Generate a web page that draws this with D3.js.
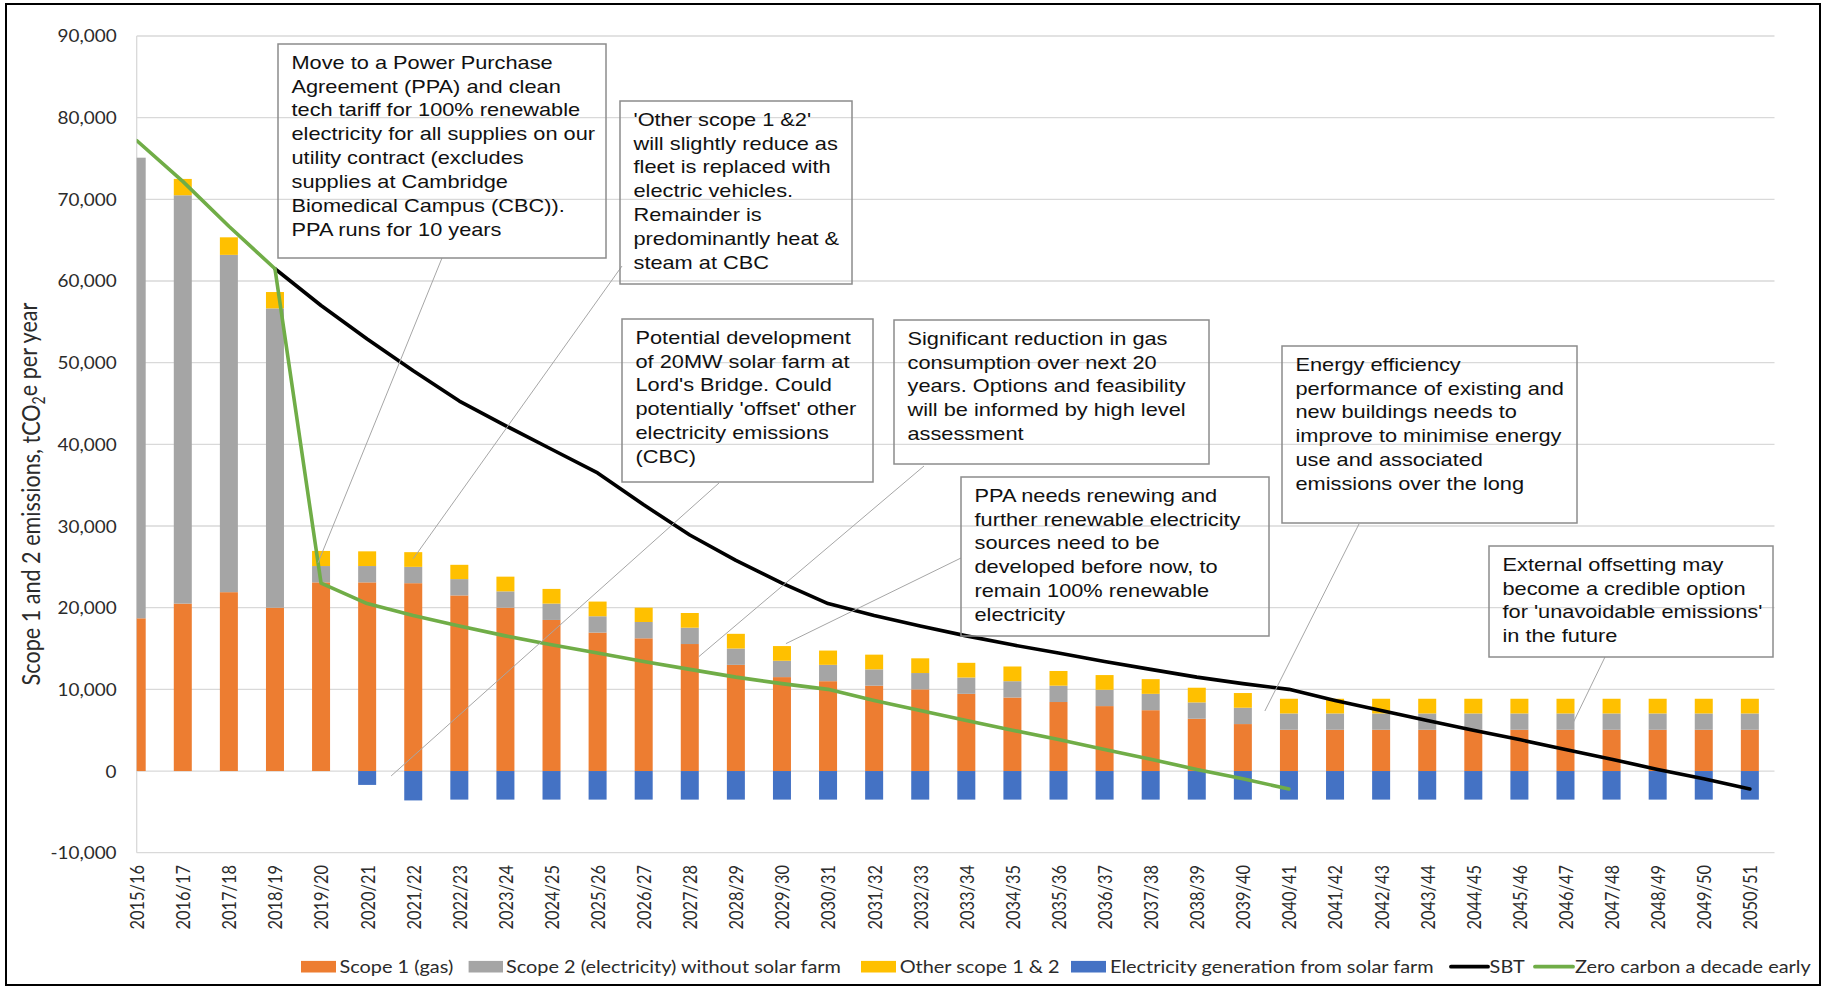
<!DOCTYPE html>
<html>
<head>
<meta charset="utf-8">
<script src="https://cdnjs.cloudflare.com/ajax/libs/d3/7.8.5/d3.min.js"></script>
<style>
  html, body { margin: 0; padding: 0; background: #fff; }
  svg { display: block; }
</style>
</head>
<body>
<svg id="chart" width="1829" height="987"></svg>
<script>
// ---- Data (tCO2e per year) ----
const years = [
  "2015/16","2016/17","2017/18","2018/19","2019/20","2020/21","2021/22","2022/23","2023/24",
  "2024/25","2025/26","2026/27","2027/28","2028/29","2029/30","2030/31","2031/32","2032/33",
  "2033/34","2034/35","2035/36","2036/37","2037/38","2038/39","2039/40","2040/41","2041/42",
  "2042/43","2043/44","2044/45","2045/46","2046/47","2047/48","2048/49","2049/50","2050/51"
];

const scope1Gas = [
  18700, 20500, 21900, 20000, 23100, 23100, 23000, 21500, 20000,
  18500, 16950, 16250, 15550, 13000, 11500, 11000, 10450, 10000,
  9450, 9000, 8450, 7950, 7450, 6400, 5750, 5050, 5050,
  5050, 5050, 5050, 5050, 5050, 5050, 5050, 5050, 5050
];

const scope2Electricity = [
  56400, 50000, 41300, 36650, 2000, 2000, 2000, 2000, 2000,
  2000, 2000, 2000, 2000, 2000, 2000, 2000, 2000, 2000,
  2000, 2000, 2000, 2000, 2000, 2000, 2000, 2000, 2000,
  2000, 2000, 2000, 2000, 2000, 2000, 2000, 2000, 2000
];

const otherScope12 = [
  0, 2000, 2150, 2000, 1850, 1800, 1800, 1750, 1800,
  1800, 1800, 1750, 1800, 1800, 1800, 1750, 1800, 1800,
  1800, 1800, 1800, 1800, 1800, 1800, 1800, 1800, 1800,
  1800, 1800, 1800, 1800, 1800, 1800, 1800, 1800, 1800
];

const solarGeneration = [
  0, 0, 0, 0, 0, -1700, -3600, -3500, -3500,
  -3500, -3500, -3500, -3500, -3500, -3500, -3500, -3500, -3500,
  -3500, -3500, -3500, -3500, -3500, -3500, -3500, -3500, -3500,
  -3500, -3500, -3500, -3500, -3500, -3500, -3500, -3500, -3500
];

const sbt = [
  null, null, null, 61500, 57000, 52900, 49000, 45300, 42300,
  39400, 36500, 32600, 28900, 25800, 23000, 20500, 19050, 17750,
  16550, 15450, 14450, 13400, 12450, 11500, 10700, 10000, 8650,
  7400, 6200, 5000, 3850, 2650, 1450, 200, -950, -2200
];

const zeroCarbonDecadeEarly = [
  77200, 72200, 66700, 61500, 23000, 20500, 19050, 17750, 16550,
  15450, 14450, 13400, 12450, 11500, 10700, 10000, 8650, 7400,
  6200, 5000, 3850, 2650, 1450, 200, -950, -2200, null,
  null, null, null, null, null, null, null, null, null
];

const yTicks = [-10000, 0, 10000, 20000, 30000, 40000, 50000, 60000, 70000, 80000, 90000];

const seriesNames = {
  scope1: "Scope 1 (gas)",
  scope2: "Scope 2 (electricity) without solar farm",
  other: "Other scope 1 & 2",
  solar: "Electricity generation from solar farm",
  sbt: "SBT",
  zero: "Zero carbon a decade early"
};

const noteTexts = [
  ["Move to a Power Purchase", "Agreement (PPA) and clean", "tech tariff for 100% renewable",
   "electricity for all supplies on our", "utility contract (excludes", "supplies at Cambridge",
   "Biomedical Campus (CBC)).", "PPA runs for 10 years"],
  ["'Other scope 1 &2'", "will slightly reduce as", "fleet is replaced with", "electric vehicles.",
   "Remainder is", "predominantly heat &", "steam at CBC"],
  ["Potential development", "of 20MW solar farm at", "Lord's Bridge. Could",
   "potentially 'offset' other", "electricity emissions", "(CBC)"],
  ["Significant reduction in gas", "consumption over next 20", "years. Options and feasibility",
   "will be informed by high level", "assessment"],
  ["PPA needs renewing and", "further renewable electricity", "sources need to be",
   "developed before now, to", "remain 100% renewable", "electricity"],
  ["Energy efficiency", "performance of existing and", "new buildings needs to",
   "improve to minimise energy", "use and associated", "emissions over the long"],
  ["External offsetting may", "become a credible option", "for 'unavoidable emissions'", "in the future"]
];

// Where each note's leader line points: category and value on the chart
const noteTargets = [
  { year: "2019/20", dx: -3, value: 25500 },
  { year: "2021/22", dx: 0, value: 26000 },
  { year: "2020/21", dx: 24, value: -600 },
  { year: "2027/28", dx: 9, value: 14000 },
  { year: "2029/30", dx: 4, value: 15600 },
  { year: "2039/40", dx: 22, value: 7350 },
  { year: "2046/47", dx: 7, value: 5750 }
];

// ---- Layout ----
const SX = 1.17;               // horizontal text stretch
const plot = { left: 136.7, right: 1774.5, top: 36, bottom: 852.7 };
const colors = {
  scope1: "#ED7D31", scope2: "#A5A5A5", other: "#FFC000", solar: "#4472C4",
  sbt: "#000000", zero: "#70AD47", grid: "#D9D9D9"
};
const axisFont = "Lato, 'Open Sans', sans-serif";
const noteFont = "'Liberation Sans', Arial, sans-serif";
const labelColor = "#2b2b2b";

// note boxes: left, top, right, bottom, anchor of leader on the box
const noteBoxes = [
  { x0: 278, y0: 44, x1: 606, y1: 258, ax: 442, ay: 258 },
  { x0: 620, y0: 101, x1: 852, y1: 284, ax: 622, ay: 266 },
  { x0: 622, y0: 319, x1: 873, y1: 482, ax: 719, ay: 483 },
  { x0: 894, y0: 320, x1: 1209, y1: 464, ax: 924, ay: 466 },
  { x0: 961, y0: 477, x1: 1269, y1: 636, ax: 961, ay: 558 },
  { x0: 1282, y0: 346, x1: 1577, y1: 523, ax: 1359, ay: 524 },
  { x0: 1489, y0: 546, x1: 1773, y1: 657, ax: 1605, ay: 657 }
];

const svg = d3.select("#chart");

const x = d3.scalePoint().domain(years).range([plot.left, plot.left + 35 * 46.09]);
const y = d3.scaleLinear().domain([-10000, 90000]).range([plot.bottom, plot.top]);
const barWidth = 18;

// outer frame
svg.append("rect")
  .attr("x", 6).attr("y", 4).attr("width", 1814).attr("height", 981)
  .attr("fill", "none").attr("stroke", "#000").attr("stroke-width", 2);

// clip region for the plotting area
svg.append("defs").append("clipPath").attr("id", "plotClip")
  .append("rect")
  .attr("x", plot.left).attr("y", plot.top - 5)
  .attr("width", plot.right - plot.left).attr("height", plot.bottom - plot.top + 10);

// gridlines
svg.append("g").selectAll("line").data(yTicks).join("line")
  .attr("x1", plot.left).attr("x2", plot.right)
  .attr("y1", d => y(d)).attr("y2", d => y(d))
  .attr("stroke", colors.grid).attr("stroke-width", 1.3);

// vertical axis line
svg.append("line")
  .attr("x1", plot.left).attr("x2", plot.left)
  .attr("y1", y(90000)).attr("y2", y(-10000))
  .attr("stroke", colors.grid).attr("stroke-width", 1.3);

// y axis labels
const fmt = d3.format(",");
const yAxis = d3.axisLeft(y).tickValues(yTicks).tickSize(0).tickPadding(0)
  .tickFormat(d => (d < 0 ? "-" : "") + fmt(Math.abs(d)));
const gy = svg.append("g").attr("transform", "translate(116.6,0)").call(yAxis);
gy.select(".domain").remove();
gy.selectAll("text")
  .attr("x", 0).attr("dy", "0.36em")
  .attr("transform", `scale(1.14,1)`)
  .style("font-family", axisFont).style("font-size", "16.6px").style("fill", labelColor);

// x axis labels
const xAxis = d3.axisBottom(x).tickSize(0).tickPadding(0);
const gx = svg.append("g").attr("transform", "translate(0,865)").call(xAxis);
gx.select(".domain").remove();
gx.selectAll("text")
  .attr("x", 0).attr("y", 0).attr("dy", "0.36em")
  .attr("text-anchor", "end")
  .attr("transform", `rotate(-90) scale(1,${SX})`)
  .style("font-family", axisFont).style("font-size", "16.4px").style("fill", labelColor);

// y axis title
const title = svg.append("text")
  .attr("transform", `translate(40,494) rotate(-90) scale(1,${SX})`)
  .attr("text-anchor", "middle")
  .style("font-family", axisFont).style("font-size", "21.6px").style("fill", labelColor);
title.append("tspan").text("Scope 1 and 2 emissions, tCO");
title.append("tspan").text("2").attr("dy", "0.3em").style("font-size", "14px");
title.append("tspan").text("e per year").attr("dy", "-0.3em");

// stacked bars
const table = years.map((yr, i) => ({
  year: yr,
  scope1: scope1Gas[i],
  scope2: scope2Electricity[i],
  other: otherScope12[i],
  solar: solarGeneration[i]
}));
const keys = ["scope1", "scope2", "other", "solar"];
const stacked = d3.stack().keys(keys).offset(d3.stackOffsetDiverging)(table);

const barsG = svg.append("g").attr("clip-path", "url(#plotClip)");
barsG.selectAll("g").data(stacked).join("g")
  .attr("fill", s => colors[s.key])
  .selectAll("rect").data(s => s).join("rect")
  .attr("x", d => x(d.data.year) - barWidth / 2)
  .attr("width", barWidth)
  .attr("y", d => y(Math.max(d[0], d[1])))
  .attr("height", d => Math.abs(y(d[0]) - y(d[1])));

// lines
const line = d3.line()
  .defined(d => d.v != null)
  .x(d => x(d.year))
  .y(d => y(d.v));

const linesG = svg.append("g").attr("clip-path", "url(#plotClip)");
linesG.append("path")
  .datum(years.map((yr, i) => ({ year: yr, v: sbt[i] })))
  .attr("d", line).attr("fill", "none")
  .attr("stroke", colors.sbt).attr("stroke-width", 3.6)
  .attr("stroke-linejoin", "round").attr("stroke-linecap", "round");
linesG.append("path")
  .datum(years.map((yr, i) => ({ year: yr, v: zeroCarbonDecadeEarly[i] })))
  .attr("d", line).attr("fill", "none")
  .attr("stroke", colors.zero).attr("stroke-width", 3.6)
  .attr("stroke-linejoin", "round").attr("stroke-linecap", "round");

// notes with leader lines
const notesG = svg.append("g");
noteBoxes.forEach((b, k) => {
  const t = noteTargets[k];
  notesG.append("line")
    .attr("x1", b.ax).attr("y1", b.ay)
    .attr("x2", x(t.year) + t.dx).attr("y2", y(t.value))
    .attr("stroke", "#A6A6A6").attr("stroke-width", 1);
  notesG.append("rect")
    .attr("x", b.x0).attr("y", b.y0)
    .attr("width", b.x1 - b.x0).attr("height", b.y1 - b.y0)
    .attr("fill", "none").attr("stroke", "#8C8C8C").attr("stroke-width", 1.5);
  const txt = notesG.append("text")
    .attr("transform", `translate(${b.x0 + 13.5},${b.y0 + 24.6}) scale(${SX},1)`)
    .style("font-family", noteFont).style("font-size", "18.6px").style("fill", "#111");
  noteTexts[k].forEach((ln, j) => {
    txt.append("tspan").attr("x", 0).attr("y", j * 23.95).text(ln);
  });
});

// legend
const legendItems = [
  { key: "scope1", type: "box", x0: 301, x1: 336, tx: 339.5 },
  { key: "scope2", type: "box", x0: 468.6, x1: 503, tx: 506 },
  { key: "other", type: "box", x0: 861, x1: 896, tx: 899.7 },
  { key: "solar", type: "box", x0: 1071, x1: 1106, tx: 1110 },
  { key: "sbt", type: "line", x0: 1451, x1: 1488, tx: 1489.6 },
  { key: "zero", type: "line", x0: 1535, x1: 1573, tx: 1575 }
];
const legendY = 966.7;
const lg = svg.append("g");
legendItems.forEach(it => {
  if (it.type === "box") {
    lg.append("rect").attr("x", it.x0).attr("y", legendY - 5.8)
      .attr("width", it.x1 - it.x0).attr("height", 11.6).attr("fill", colors[it.key]);
  } else {
    lg.append("line").attr("x1", it.x0).attr("x2", it.x1)
      .attr("y1", legendY).attr("y2", legendY)
      .attr("stroke", colors[it.key]).attr("stroke-width", 3.8).attr("stroke-linecap", "round");
  }
  lg.append("text")
    .attr("transform", `translate(${it.tx},${legendY}) scale(${SX},1)`)
    .attr("dy", "0.36em")
    .style("font-family", axisFont).style("font-size", "17px").style("fill", labelColor)
    .text(seriesNames[it.key]);
});
</script>
</body>
</html>
